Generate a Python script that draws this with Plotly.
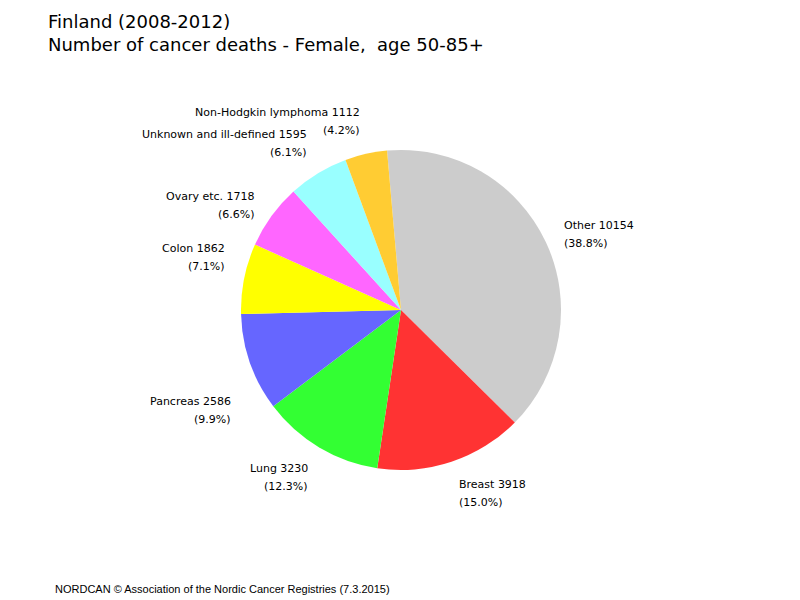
import math
import plotly.graph_objects as go

# ---- data ----
categories = ["Other", "Breast", "Lung", "Pancreas", "Colon", "Ovary etc.",
              "Unknown and ill-defined", "Non-Hodgkin lymphoma"]
deaths = [10154, 3918, 3230, 2586, 1862, 1718, 1595, 1112]
slice_colors = ["#CCCCCC", "#FF3333", "#33FF33", "#6666FF", "#FFFF00",
                "#FF66FF", "#99FFFF", "#FFCC33"]
title_lines = ["Finland (2008-2012)", "Number of cancer deaths - Female,  age 50-85+"]
footer_text = "NORDCAN \u00a9 Association of the Nordic Cancer Registries (7.3.2015)"

# ---- layout geometry (page pixels) ----
W, H = 800, 600
OFF = 8  # page body margin
CX, CY, R = 401, 310, 160
ROTATION = -5  # degrees, clockwise from 12 o'clock
LABEL_R = 1.11 * R
# manual nudges (pixels, y down) for crowded labels
label_nudge = {"Colon": -18, "Pancreas": 42}


def px(x):
    return (x - OFF) / W


def py(y):
    return 1 - (y - OFF) / H


fig = go.Figure()
fig.add_trace(go.Pie(
    labels=categories, values=deaths, sort=False, direction="clockwise",
    rotation=ROTATION, textinfo="none", hoverinfo="label+value+percent",
    marker=dict(colors=slice_colors, line=dict(width=0)),
    domain=dict(x=[px(CX - R), px(CX + R)],
                y=[py(CY + R), py(CY - R)]),
    showlegend=False,
))

annotations = []
total = sum(deaths)
cum = 0.0
for name, v in zip(categories, deaths):
    frac = v / total
    mid = math.radians(ROTATION + 360 * (cum + frac / 2))
    cum += frac
    s, c = math.sin(mid), math.cos(mid)
    x = CX + LABEL_R * s
    y = CY - LABEL_R * c
    if abs(c) > 0.7:
        y -= 15 * (1 if c > 0 else -1)
    y += label_nudge.get(name, 0)
    anchor = "left" if s >= 0 else "right"
    pct = "(%.1f%%)" % (100 * frac)
    for txt, dy in ((f"{name} {v}", -9), (pct, 9)):
        annotations.append(dict(
            x=px(x), y=py(y + dy), xref="paper", yref="paper", text=txt,
            showarrow=False, xanchor=anchor, yanchor="middle", align=anchor,
            font=dict(family="DejaVu Sans", size=11, color="#000000")))

for i, t in enumerate(title_lines):
    annotations.append(dict(
        x=px(46), y=py(21 + 24 * i), xref="paper", yref="paper", text=t,
        showarrow=False, xanchor="left", yanchor="middle",
        font=dict(family="DejaVu Sans", size=18, color="#000000")))

annotations.append(dict(
    x=px(53), y=py(589), xref="paper", yref="paper", text=footer_text,
    showarrow=False, xanchor="left", yanchor="middle",
    font=dict(family="Liberation Sans", size=11, color="#000000")))

fig.update_layout(
    width=W, height=H, margin=dict(l=0, r=0, t=0, b=0),
    paper_bgcolor="#FFFFFF", plot_bgcolor="#FFFFFF",
    annotations=annotations,
)

fig.write_html("out.html")
